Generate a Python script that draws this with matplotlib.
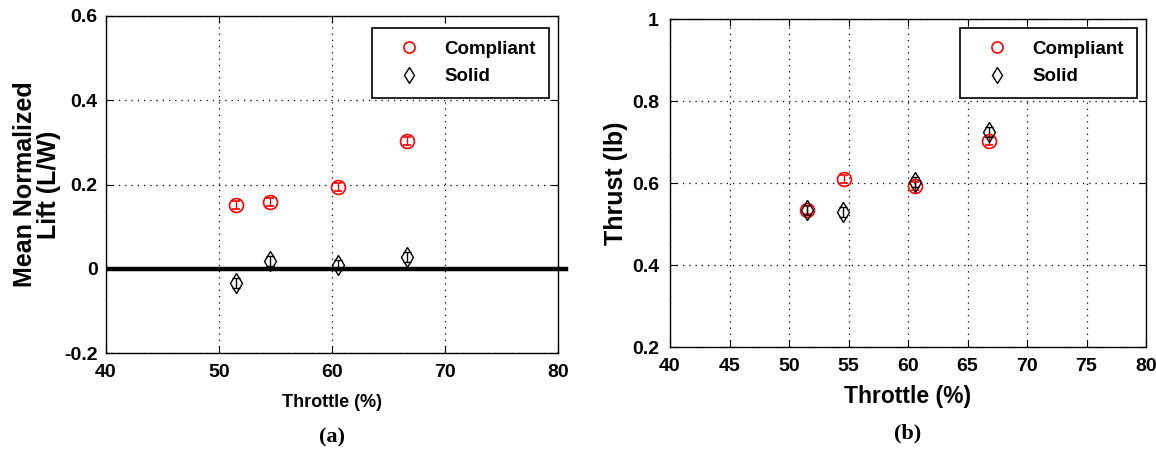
import matplotlib.pyplot as plt

plt.rcParams['font.family'] = ['Liberation Sans', 'DejaVu Sans']

# throttle settings (%)
throttle_c = [51.5, 54.5, 60.5, 66.6]
throttle_s = [51.5, 54.5, 60.5, 66.6]

# (a) mean normalized lift
lift_c = [0.151, 0.158, 0.194, 0.303]
lift_c_err = [0.010, 0.010, 0.010, 0.010]
lift_s = [-0.034, 0.019, 0.008, 0.027]
lift_s_err = [0.012, 0.012, 0.012, 0.012]

# (b) thrust
thrust_x_c = [51.5, 54.6, 60.6, 66.8]
thrust_c = [0.535, 0.610, 0.593, 0.703]
thrust_c_err = [0.010, 0.010, 0.010, 0.010]
thrust_x_s = [51.5, 54.5, 60.6, 66.8]
thrust_s = [0.535, 0.529, 0.602, 0.724]
thrust_s_err = [0.012, 0.012, 0.012, 0.012]

fig = plt.figure(figsize=(11.56, 4.54), dpi=100)
W, H = 1156, 454
ax1 = fig.add_axes([106 / W, 1 - 353 / H, (558 - 106) / W, (353 - 16) / H])
ax2 = fig.add_axes([670 / W, 1 - 347 / H, (1146 - 670) / W, (347 - 19) / H])


def draw_points(ax, xc, yc, ec, xs, ys, es, anchor, ypad):
    ax.errorbar(xc, yc, yerr=ec, fmt='o', color='red', mfc='none', ms=10,
                mew=1.2, elinewidth=1, capsize=3, label='Compliant', zorder=3)
    ax.errorbar(xs, ys, yerr=es, fmt='d', color='black', mfc='none', ms=10,
                mew=1.0, elinewidth=1, capsize=3, label='Solid', zorder=3)
    handles, labels = ax.get_legend_handles_labels()
    handles = [h[0] for h in handles]
    leg = ax.legend(handles, labels, loc='upper right', fancybox=False,
                    edgecolor='black', framealpha=1, borderpad=0.68,
                    borderaxespad=0, handletextpad=0.64, handlelength=2.55,
                    labelspacing=0.55, markerscale=0.8,
                    prop={'weight': 'bold', 'size': 13.5},
                    bbox_to_anchor=anchor)
    leg.get_frame().set_linewidth(1.2)
    ax.grid(True, linestyle=(0, (1, 4)), color='black', linewidth=0.9)
    ax.tick_params(direction='in', length=5, top=True, right=True)
    ax.tick_params(axis='x', pad=8)
    ax.tick_params(axis='y', pad=ypad)
    for s in ax.spines.values():
        s.set_linewidth(1.0)
    for lab in ax.get_xticklabels() + ax.get_yticklabels():
        lab.set_fontsize(14)
        lab.set_fontweight('bold')


# (a)
ax1.set_xlim(40, 80)
ax1.set_ylim(-0.2, 0.6)
ax1.set_xticks([40, 50, 60, 70, 80])
ax1.set_yticks([-0.2, 0, 0.2, 0.4, 0.6])
ax1.set_yticklabels(['-0.2', '0', '0.2', '0.4', '0.6'])
ax1.plot([40.3, 80.7], [0, 0], color='black', lw=3.2, clip_on=False, zorder=2)
draw_points(ax1, throttle_c, lift_c, lift_c_err, throttle_s, lift_s, lift_s_err,
            (0.98, 0.965), 6)
ax1.set_xlabel('Throttle (%)', fontsize=13, fontweight='bold', labelpad=9)
ax1.set_ylabel('Mean Normalized\nLift (L/W)', fontsize=18, fontweight='bold',
               linespacing=1.0, labelpad=2)

# (b)
ax2.set_xlim(40, 80)
ax2.set_ylim(0.2, 1.0)
ax2.set_xticks(range(40, 81, 5))
ax2.set_yticks([0.2, 0.4, 0.6, 0.8, 1.0])
ax2.set_yticklabels(['0.2', '0.4', '0.6', '0.8', '1'])
draw_points(ax2, thrust_x_c, thrust_c, thrust_c_err, thrust_x_s, thrust_s, thrust_s_err,
            (0.981, 0.973), 8)
ax2.set_xlabel('Throttle (%)', fontsize=16.5, fontweight='bold', labelpad=7)
ax2.set_ylabel('Thrust (lb)', fontsize=18, fontweight='bold', labelpad=3)

fig.text(0.5 * (106 + 558) / W, 1 - 437 / H, '(a)', ha='center', va='center',
         fontsize=16, fontweight='bold', family=['Liberation Serif', 'DejaVu Serif'])
fig.text(0.5 * (670 + 1146) / W, 1 - 433 / H, '(b)', ha='center', va='center',
         fontsize=16, fontweight='bold', family=['Liberation Serif', 'DejaVu Serif'])

fig.savefig('out.png', dpi=100)
